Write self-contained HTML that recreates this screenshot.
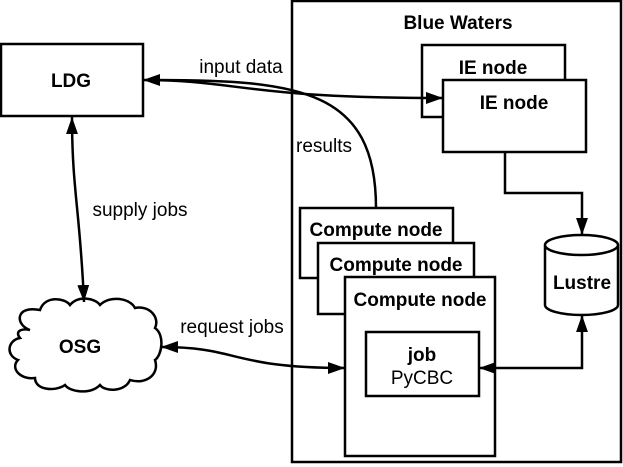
<!DOCTYPE html>
<html><head><meta charset="utf-8"><style>body{margin:0;background:#fff}svg{display:block}</style></head><body>
<svg width="623" height="467" viewBox="0 0 623 467" xmlns="http://www.w3.org/2000/svg" font-family="Liberation Sans, sans-serif">
<defs>
<marker id="b" viewBox="0 0 10 10" refX="10" refY="5" markerWidth="17" markerHeight="17" markerUnits="userSpaceOnUse" orient="auto-start-reverse"><path d="M0,1.5L10,5L0,8.5z" fill="#000"/></marker></defs>
<g fill="#fff" stroke="#000" stroke-width="2.5">
<rect x="292" y="1" width="329" height="461"/>
<rect x="1" y="44" width="142" height="72"/>
<rect x="422" y="45" width="143" height="72"/>
<rect x="443" y="80" width="143" height="72"/>
<rect x="300" y="208" width="153" height="70"/>
<rect x="318" y="243" width="156" height="71"/>
<rect x="345" y="277" width="150" height="179"/>
<rect x="366" y="332" width="113" height="64"/>
<path d="M545,245 v60 a36.5,10 0 0 0 73,0 v-60 a36.5,10 0 0 0 -73,0 a36.5,10 0 0 0 73,0"/>
<path d="M30,330 C15,325 15,305 40,310 C45,295 65,298 70,305 C78,295 95,298 100,305 C110,295 130,298 135,308 C150,305 160,318 155,328 C165,335 162,355 155,360 C160,375 145,385 130,380 C125,392 105,392 100,385 C90,395 70,392 65,385 C55,392 35,390 35,378 C20,380 10,368 18,360 C5,355 8,340 20,338 C15,332 20,328 30,330z"/>
</g>
<g fill="none" stroke="#000" stroke-width="2.5">
<path d="M143,80 C240,80 240,98 443,98" marker-start="url(#b)" marker-end="url(#b)"/>
<path d="M376,208 C376,90 300,80 155,80"/>
<path d="M72,117 C72,190 80,210 84,302" marker-start="url(#b)" marker-end="url(#b)"/>
<path d="M161,347 C240,347 230,368 345,368" marker-start="url(#b)" marker-end="url(#b)"/>
<path d="M505,152 V193 H582 V235" marker-end="url(#b)"/>
<path d="M582,315 V368 H479" marker-start="url(#b)" marker-end="url(#b)"/>
</g>
<g font-size="19" text-anchor="middle">
<text x="458" y="29" font-weight="bold">Blue Waters</text>
<text x="71" y="87" font-weight="bold">LDG</text>
<text x="493" y="74" font-weight="bold">IE node</text>
<text x="514" y="109" font-weight="bold">IE node</text>
<text x="376" y="236" font-weight="bold">Compute node</text>
<text x="396" y="271" font-weight="bold">Compute node</text>
<text x="420" y="306" font-weight="bold">Compute node</text>
<text x="422" y="361" font-weight="bold">job</text>
<text x="422" y="384">PyCBC</text>
<text x="582" y="289" font-weight="bold">Lustre</text>
<text x="80" y="353" font-weight="bold">OSG</text>
<text x="241" y="73">input data</text>
<text x="324" y="152">results</text>
<text x="140" y="216">supply jobs</text>
<text x="232" y="333">request jobs</text>
</g>
</svg>
</body></html>
